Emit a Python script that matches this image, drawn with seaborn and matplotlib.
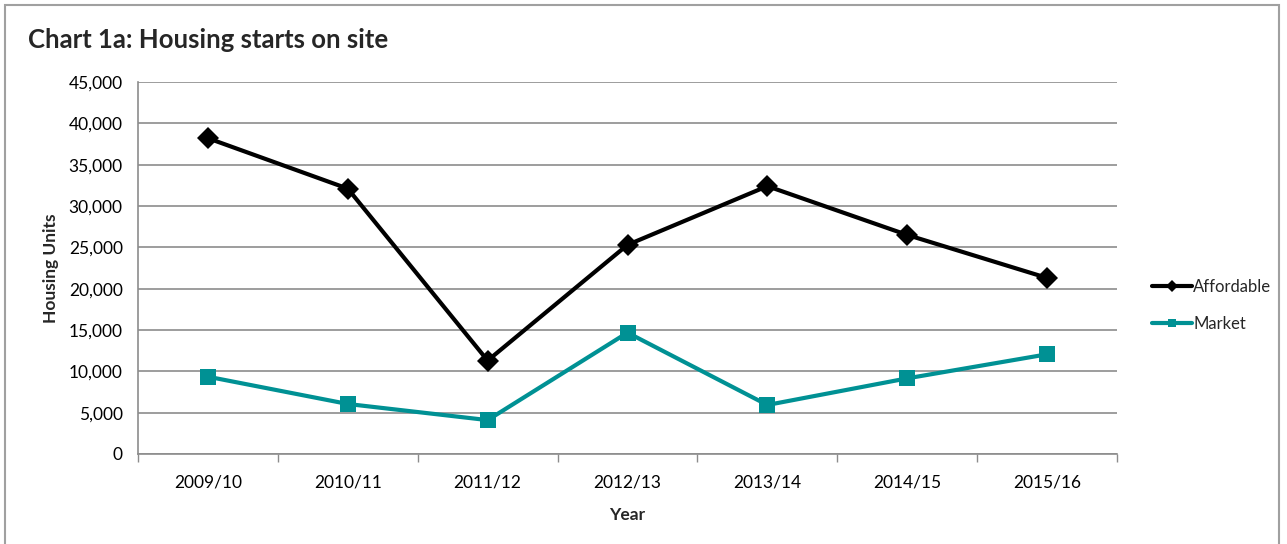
import matplotlib
matplotlib.use("Agg")
import matplotlib.pyplot as plt
import matplotlib.patches as mpatches
from matplotlib.ticker import FuncFormatter, FixedLocator
import seaborn as sns
import pandas as pd

years = ["2009/10", "2010/11", "2011/12", "2012/13", "2013/14", "2014/15", "2015/16"]
affordable = [38200, 32100, 11300, 25300, 32400, 26500, 21300]
market = [9350, 6050, 4100, 14680, 5930, 9150, 12060]
series_names = ["Affordable", "Market"]

df = pd.DataFrame({
    "Year": years * 2,
    "Housing Units": affordable + market,
    "Series": [series_names[0]] * len(years) + [series_names[1]] * len(years),
})
df["pos"] = list(range(len(years))) * 2

sns.set_theme(style="white")
plt.rcParams["font.family"] = ["Lato", "DejaVu Sans"]

fig = plt.figure(figsize=(12.87, 5.44), dpi=100)
ax = fig.add_axes([138 / 1287, 90 / 544, 979 / 1287, 372 / 544])

grid_col = "#8c8c8c"
palette = {"Affordable": "#000000", "Market": "#009194"}
sns.lineplot(data=df, x="pos", y="Housing Units", hue="Series", style="Series",
             markers={"Affordable": "D", "Market": "s"}, dashes=False,
             palette=palette, linewidth=3, markersize=11, markeredgewidth=0,
             ax=ax, legend=True, zorder=3)

ax.set_xlim(-0.5, len(years) - 0.5)
ax.set_ylim(0, 45000)
ax.set_yticks(range(0, 45001, 5000))
ax.yaxis.set_major_formatter(FuncFormatter(lambda v, p: f"{int(v):,}"))
ax.set_xticks(range(len(years)))
ax.set_xticklabels(years)
ax.xaxis.set_minor_locator(FixedLocator([i - 0.5 for i in range(len(years) + 1)]))
ax.tick_params(axis="x", which="major", length=0, pad=15, labelsize=12.5, colors="black")
ax.tick_params(axis="x", which="minor", length=6, width=1, color=grid_col, direction="out")
ax.tick_params(axis="y", which="major", length=5, width=1, color=grid_col, direction="out",
               labelsize=12.5, labelcolor="black", pad=6)
ax.xaxis.set_tick_params(which="minor", bottom=True)

ax.grid(axis="y", color=grid_col, linewidth=1.2)
ax.grid(axis="x", visible=False)
ax.set_axisbelow(True)
for s in ["top", "right"]:
    ax.spines[s].set_visible(False)
for s in ["left", "bottom"]:
    ax.spines[s].set_color(grid_col)
    ax.spines[s].set_linewidth(1.2)

ax.set_xlabel("Year", fontsize=12.5, fontweight="bold", labelpad=12)
ax.set_ylabel("Housing Units", fontsize=12.5, fontweight="bold", labelpad=7)

leg = ax.legend(loc="center left", bbox_to_anchor=(1.02, 0.40), frameon=False,
                fontsize=12, handlelength=2.4, handletextpad=0.1, labelspacing=1.25)
for h in leg.legend_handles:
    h.set_markersize(6)

fig.text(28 / 1287, 1 - 40 / 544, "Chart 1a: Housing starts on site", fontsize=18.5,
         fontweight="bold", ha="left", va="center")

border = mpatches.Rectangle((5 / 1287, -0.05), 1274 / 1287, 1.05 - 5 / 544,
                            transform=fig.transFigure, fill=False,
                            edgecolor="#a0a0a0", linewidth=1.5)
fig.patches.append(border)

fig.savefig("out.png", dpi=100)
